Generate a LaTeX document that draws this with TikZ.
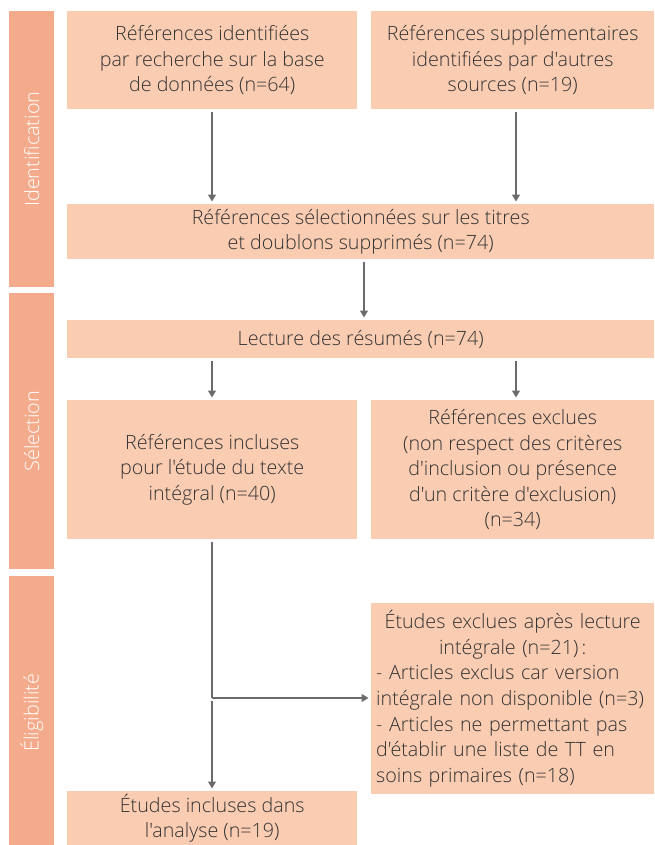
\documentclass[tikz,border=0pt]{standalone}
\usepackage{fontspec}
\setmainfont{Open Sans Light}[Ligatures=TeXOff]
\usetikzlibrary{arrows.meta}
\definecolor{boxfill}{HTML}{FACDB3}
\definecolor{barfill}{HTML}{F4AB8B}
\definecolor{txt}{HTML}{333333}
\definecolor{arr}{HTML}{6B6B6B}
\tikzset{
  box/.style={fill=boxfill, text=txt, anchor=north west, inner sep=0pt, align=center,
    font=\fontsize{19.7}{25.6}\selectfont},
  bar/.style={fill=barfill, anchor=north west, inner sep=0pt, minimum width=45pt},
  barlabel/.style={text=white, rotate=90, font=\fontsize{19.8}{22}\selectfont},
  conn/.style={draw=arr, line width=1.3pt, -{Triangle[width=8pt,length=7pt]}, shorten >=2.5pt, shorten <=3pt},
  plain/.style={draw=arr, line width=1.3pt}
}
\begin{document}
\begin{tikzpicture}[x=1pt,y=-1pt]
\useasboundingbox (0,0) rectangle (654,845);
% phase bars
\node[bar, minimum height=276pt] (b1) at (9,11) {};
\node[bar, minimum height=276pt] (b2) at (9,293) {};
\node[bar, minimum height=269pt] (b3) at (9,576) {};
\node[barlabel] (l1) at (b1.center) {Identification};
\node[barlabel] (l2) at (b2.center) {Sélection};
\node[barlabel] (l3) at ([yshift=-2pt]b3.center) {Éligibilité};
% boxes
\node[box, minimum width=290pt, minimum height=98pt] (n1) at (67,11)
  {Références identifiées\\par recherche sur la base\\de données (n=64)};
\node[box, minimum width=283pt, minimum height=98pt] (n2) at (371,11)
  {Références supplémentaires\\identifiées par d'autres\\sources (n=19)};
\node[box, minimum width=587pt, minimum height=55pt] (n3) at (67,204)
  {Références sélectionnées sur les titres\\et doublons supprimés (n=74)};
\node[box, minimum width=587pt, minimum height=38pt] (n4) at (67,320)
  {Lecture des résumés (n=74)};
\node[box, minimum width=290pt, minimum height=139pt] (n5) at (67,400)
  {Références incluses\\pour l'étude du texte\\intégral (n=40)};
\node[box, minimum width=283pt, minimum height=139pt] (n6) at (371,400)
  {Références exclues\\(non respect des critères\\d'inclusion ou présence\\d'un critère d'exclusion)\\(n=34)};
\node[box, minimum width=283pt, minimum height=191pt, text width=273pt, align=left] (n7) at (371,603)
  {\centering Études exclues après lecture\\intégrale (n=21)\,:\par
   \raggedright - Articles exclus car version\\intégrale non disponible (n=3)\\- Articles ne permettant pas\\d'établir une liste de TT en\\soins primaires (n=18)};
\node[box, minimum width=290pt, minimum height=54pt] (n8) at (67,791)
  {Études incluses dans\\l'analyse (n=19)};
% connectors
\coordinate (s1) at (212,109);
\coordinate (s2) at (516,109);
\draw[conn] (n1.south -| s1) -- (n3.north -| s1);
\draw[conn] (n2.south -| s2) -- (n3.north -| s2);
\coordinate (s3) at (364,259);
\draw[conn] (n3.south -| s3) -- (n4.north -| s3);
\draw[conn] (n4.south -| s1) -- (n5.north -| s1);
\draw[conn] (n4.south -| s2) -- (n6.north -| s2);
\coordinate (br) at (212,698);
\draw[plain, shorten <=3pt] (n5.south -| s1) -- (br);
\draw[conn] (br) -- (n8.north -| br);
\draw[conn, shorten <=0pt] (br) -- (br -| n7.west);
\end{tikzpicture}
\end{document}
